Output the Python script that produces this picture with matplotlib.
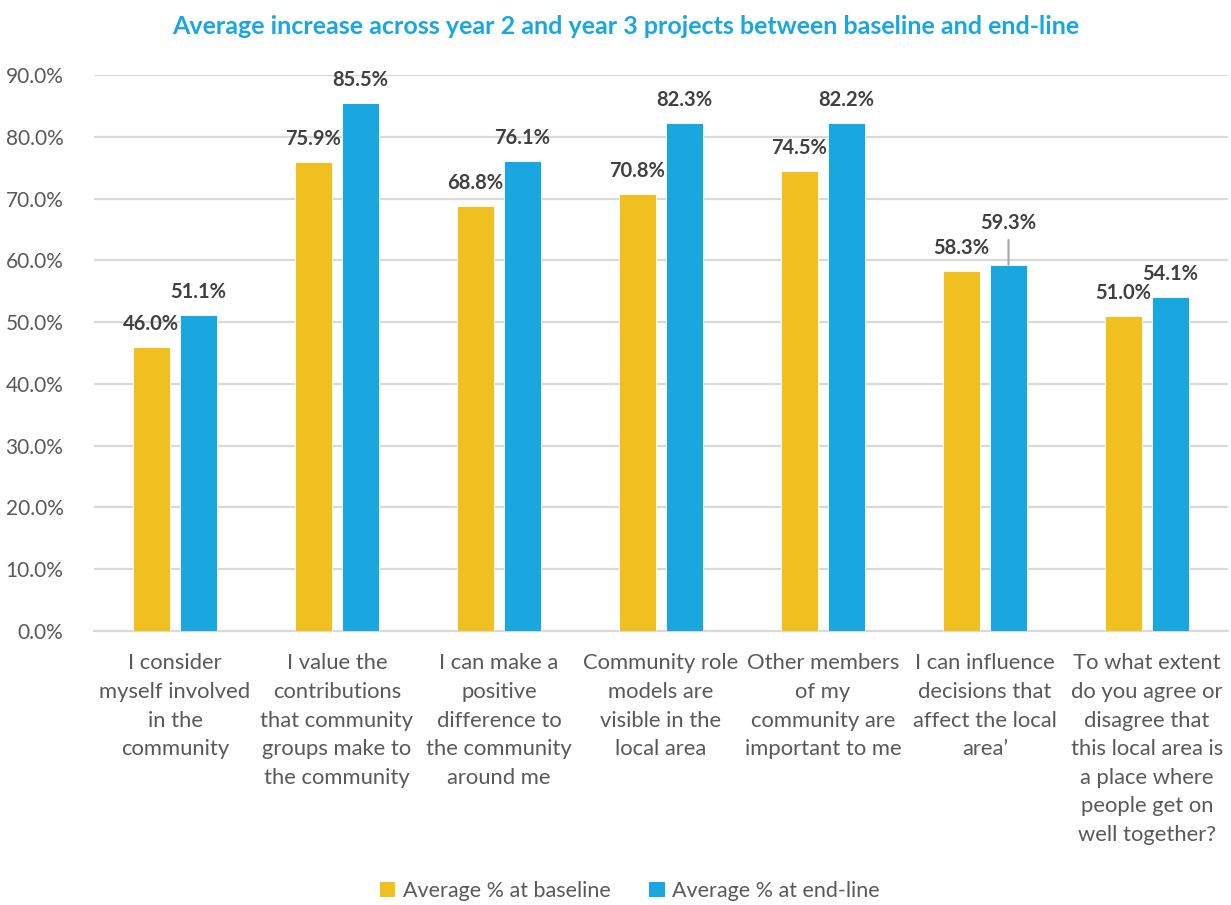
import matplotlib
matplotlib.use("Agg")
import matplotlib.pyplot as plt
from matplotlib.patches import Patch
import numpy as np

plt.rcParams['font.family'] = ['Lato', 'DejaVu Sans']

categories = [
    "I consider\nmyself involved\nin the\ncommunity",
    "I value the\ncontributions\nthat community\ngroups make to\nthe community",
    "I can make a\npositive\ndifference to\nthe community\naround me",
    "Community role\nmodels are\nvisible in the\nlocal area",
    "Other members\nof my\ncommunity are\nimportant to me",
    "I can influence\ndecisions that\naffect the local\narea\u2019",
    "To what extent\ndo you agree or\ndisagree that\nthis local area is\na place where\npeople get on\nwell together?",
]
baseline = [46.0, 75.9, 68.8, 70.8, 74.5, 58.3, 51.0]
endline = [51.1, 85.5, 76.1, 82.3, 82.2, 59.3, 54.1]
series_names = ["Average % at baseline", "Average % at end-line"]
yticks = [0, 10, 20, 30, 40, 50, 60, 70, 80, 90]

YELLOW = "#F0C020"
BLUE = "#1AA7DF"
GRID = "#D9D9D9"
TICK = "#595959"
LABEL = "#404040"

fig = plt.figure(figsize=(12.31, 9.05), dpi=100)
ax = fig.add_axes([94 / 1231, 1 - 631 / 905, (1228 - 94) / 1231, (631 - 75) / 905])

x = np.arange(len(categories))
w = 0.228
off = 0.145
b1 = ax.bar(x - off, baseline, w, color=YELLOW, edgecolor="white", linewidth=0.6, zorder=3)
b2 = ax.bar(x + off, endline, w, color=BLUE, edgecolor="white", linewidth=0.6, zorder=3)

ax.set_xlim(-0.5, len(categories) - 0.5)
ax.set_ylim(0, 90)
ax.set_yticks(yticks)
ax.set_yticklabels([f"{v:.1f}%" for v in yticks], fontsize=15, color=TICK)
ax.set_xticks(x)
ax.set_xticklabels(categories, fontsize=15.8, color=TICK, linespacing=1.54, va="top")
ax.tick_params(axis="both", length=0)
ax.tick_params(axis="y", pad=22)
ax.tick_params(axis="x", pad=16)
ax.yaxis.grid(True, color=GRID, linewidth=1.6, zorder=0)
ax.set_axisbelow(True)
for s in ["top", "right", "left"]:
    ax.spines[s].set_visible(False)
ax.spines["bottom"].set_color(GRID)
ax.spines["bottom"].set_linewidth(1.6)

# value labels above each bar
for rects, vals in ((b1, baseline), (b2, endline)):
    for r, v in zip(rects, vals):
        cx = r.get_x() + r.get_width() / 2
        if v == 59.3:
            ax.annotate(f"{v:.1f}%", xy=(cx, v), xytext=(0, 30), textcoords="offset points",
                        ha="center", va="center", fontsize=14.5, fontweight="bold", color=LABEL,
                        arrowprops=dict(arrowstyle="-", color="#A6A6A6", lw=1.5,
                                        shrinkA=3, shrinkB=0))
        else:
            ax.annotate(f"{v:.1f}%", xy=(cx, v), xytext=(0, 16.5), textcoords="offset points",
                        ha="center", va="center", fontsize=14.5, fontweight="bold", color=LABEL)

fig.text(626 / 1231, 1 - 27 / 905,
         "Average increase across year 2 and year 3 projects between baseline and end-line",
         ha="center", va="center", fontsize=18, fontweight="bold", color="#1BA6DF")

handles = [Patch(facecolor=YELLOW), Patch(facecolor=BLUE)]
leg = fig.legend(handles, series_names, loc="center", bbox_to_anchor=(630 / 1231, 1 - 891 / 905),
                 ncol=2, frameon=False, fontsize=15.5, handlelength=0.7, handleheight=0.7,
                 handletextpad=0.35, columnspacing=1.8)
for t in leg.get_texts():
    t.set_color(TICK)

fig.savefig("out.png", dpi=100)
